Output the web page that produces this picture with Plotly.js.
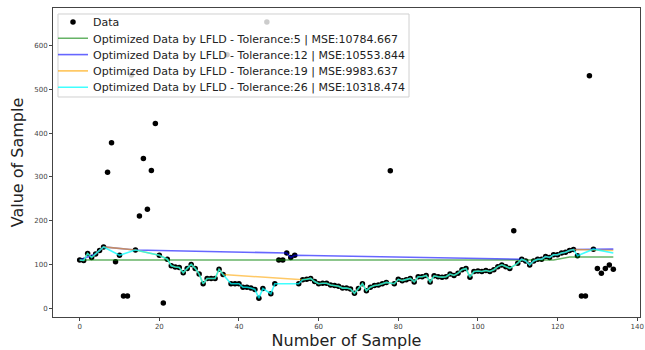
<!DOCTYPE html>
<html>
<head>
<meta charset="utf-8">
<script src="https://cdn.plot.ly/plotly-3.0.1.min.js"></script>
<style>html,body{margin:0;padding:0;background:#fff;}#chart{width:645px;height:350px;}</style>
</head>
<body>
<div id="chart"></div>
<script>
// Sample index (x) and values (y)
const sampleIdx = [0,1,2,3,4,5,6,7,8,9,10,11,12,13,14,15,16,17,18,19,20,21,22,23,24,25,26,27,28,29,30,31,32,33,34,35,36,37,38,39,40,41,42,43,44,45,46,47,48,49,50,51,52,53,54,55,56,57,58,59,60,61,62,63,64,65,66,67,68,69,70,71,72,73,74,75,76,77,78,79,80,81,82,83,84,85,86,87,88,89,90,91,92,93,94,95,96,97,98,99,100,101,102,103,104,105,106,107,108,109,110,111,112,113,114,115,116,117,118,119,120,121,122,123,124,125,126,127,128,129,130,131,132,133,134];
const sampleVal = [110,109,125,116,124,132,140,311,378,106,121,28,28,533,133,211,342,226,315,422,121,12,112,97,94,93,81,91,100,91,78,56,68,68,68,89,77,579,56,56,56,48,48,46,43,23,45,654,33,56,110,110,126,116,121,56,65,66,68,61,56,57,57,53,52,50,46,46,44,34,45,56,40,48,52,53,56,59,314,56,66,63,65,68,60,72,72,75,60,74,72,71,72,78,75,80,88,91,71,84,85,84,86,84,88,95,99,95,91,177,103,112,108,99,108,112,112,118,116,122,122,126,128,132,134,120,28,28,531,135,91,80,91,99,89];

// Optimized series (LFLD) vertices
const tol5X = [0,119,123,134];
const tol5Y = [110,110,117,117];

const tol12X = [0,4,5,6,14,52,53,54,111,112,113,114,115,116,117,118,119,120,121,122,123,124,134];
const tol12Y = [110,124,132,140,133,126,116,121,112,108,99,108,112,112,118,116,122,122,126,128,132,134,135];

const tol19X = [0,1,2,3,4,5,6,14,20,22,23,24,25,26,27,28,29,30,31,32,33,34,35,36,56,57,58,59,60,61,62,63,64,65,66,67,68,69,70,71,72,73,74,75,76,77,79,80,81,82,83,84,85,86,87,88,89,90,91,92,93,94,95,96,97,98,99,100,101,102,103,104,105,106,107,108,110,111,112,113,114,115,116,117,118,119,120,121,122,123,124,134];
const tol19Y = [110,109,125,116,124,132,140,133,121,112,97,94,93,81,91,100,91,78,56,68,68,68,89,77,65,66,68,61,56,57,57,53,52,50,46,46,44,34,45,56,40,48,52,53,56,59,56,66,63,65,68,60,72,72,75,60,74,72,71,72,78,75,80,88,91,71,84,85,84,86,84,88,95,99,95,91,103,112,108,99,108,112,112,118,116,122,122,126,128,132,134,132];

const tol26X = [0,1,2,3,4,5,6,10,14,20,22,23,24,25,26,27,28,29,30,31,32,33,34,35,36,38,39,40,41,42,43,44,45,46,48,49,55,56,57,58,59,60,61,62,63,64,65,66,67,68,69,70,71,72,73,74,75,76,77,79,80,81,82,83,84,85,86,87,88,89,90,91,92,93,94,95,96,97,98,99,100,101,102,103,104,105,106,107,108,110,111,112,113,114,115,116,117,118,119,120,121,122,123,124,125,129,134];
const tol26Y = [110,109,125,116,124,132,140,121,133,121,112,97,94,93,81,91,100,91,78,56,68,68,68,89,77,56,56,56,48,48,46,43,23,45,33,56,56,65,66,68,61,56,57,57,53,52,50,46,46,44,34,45,56,40,48,52,53,56,59,56,66,63,65,68,60,72,72,75,60,74,72,71,72,78,75,80,88,91,71,84,85,84,86,84,88,95,99,95,91,103,112,108,99,108,112,112,118,116,122,122,126,128,132,134,120,135,126];

const seriesNames = [
  'Data',
  'Optimized Data by LFLD - Tolerance:5 | MSE:10784.667',
  'Optimized Data by LFLD - Tolerance:12 | MSE:10553.844',
  'Optimized Data by LFLD - Tolerance:19 | MSE:9983.637',
  'Optimized Data by LFLD - Tolerance:26 | MSE:10318.474'
];
const xTicks = [0,20,40,60,80,100,120,140];
const yTicks = [0,100,200,300,400,500,600];

const font = 'DejaVu Sans, sans-serif';
const legendIds = ['legend','legend2','legend3','legend4','legend5'];
const traces = [
  {x: sampleIdx, y: sampleVal, name: seriesNames[0], mode: 'markers', type: 'scatter',
   marker: {color: '#000', size: 5.5}},
  {x: tol5X, y: tol5Y, name: seriesNames[1], mode: 'lines', type: 'scatter',
   line: {color: 'rgba(0,128,0,0.6)', width: 1.6}},
  {x: tol12X, y: tol12Y, name: seriesNames[2], mode: 'lines', type: 'scatter',
   line: {color: 'rgba(0,0,255,0.6)', width: 1.6}},
  {x: tol19X, y: tol19Y, name: seriesNames[3], mode: 'lines', type: 'scatter',
   line: {color: 'rgba(255,165,0,0.6)', width: 1.6}},
  {x: tol26X, y: tol26Y, name: seriesNames[4], mode: 'lines', type: 'scatter',
   line: {color: 'rgba(0,255,255,0.75)', width: 1.6}}
];
traces.forEach((t, i) => { t.legend = legendIds[i]; });

const axisCommon = {
  showgrid: false, zeroline: false, showline: true, mirror: true,
  linecolor: '#444', linewidth: 1, ticks: 'outside', ticklen: 3, tickcolor: '#444',
  tickfont: {family: font, size: 7, color: '#444'}
};

// plot area: 53..640 px horizontally, 8..317 px vertically
const rowPx = [22, 38.3, 54.6, 70.9, 87.2];
const layout = {
  width: 645, height: 350,
  margin: {l: 53, r: 5, t: 8, b: 33},
  paper_bgcolor: '#fff', plot_bgcolor: '#fff',
  font: {family: font},
  showlegend: true,
  shapes: [{type: 'rect', xref: 'paper', yref: 'paper', layer: 'above',
    x0: 0.0085, x1: 0.6065, y0: 0.712, y1: 0.9806,
    fillcolor: 'rgba(255,255,255,0.8)', line: {color: '#d0d0d0', width: 1}}],
  xaxis: Object.assign({}, axisCommon, {
    range: [-6.7, 140.7], tickvals: xTicks,
    title: {text: 'Number of Sample', font: {family: font, size: 16, color: '#222'}, standoff: 2}
  }),
  yaxis: Object.assign({}, axisCommon, {
    range: [-20.1, 686.1], tickvals: yTicks,
    title: {text: 'Value of Sample', font: {family: font, size: 16, color: '#222'}, standoff: 6}
  })
};
legendIds.forEach((id, i) => {
  layout[id] = {x: 0, y: (317 - rowPx[i]) / 309, xanchor: 'left', yanchor: 'middle',
    bgcolor: 'rgba(0,0,0,0)', borderwidth: 0,
    font: {family: font, size: 11, color: '#222'}, itemwidth: 30};
});

Plotly.newPlot('chart', traces, layout, {displayModeBar: false, staticPlot: true});
</script>
</body>
</html>
